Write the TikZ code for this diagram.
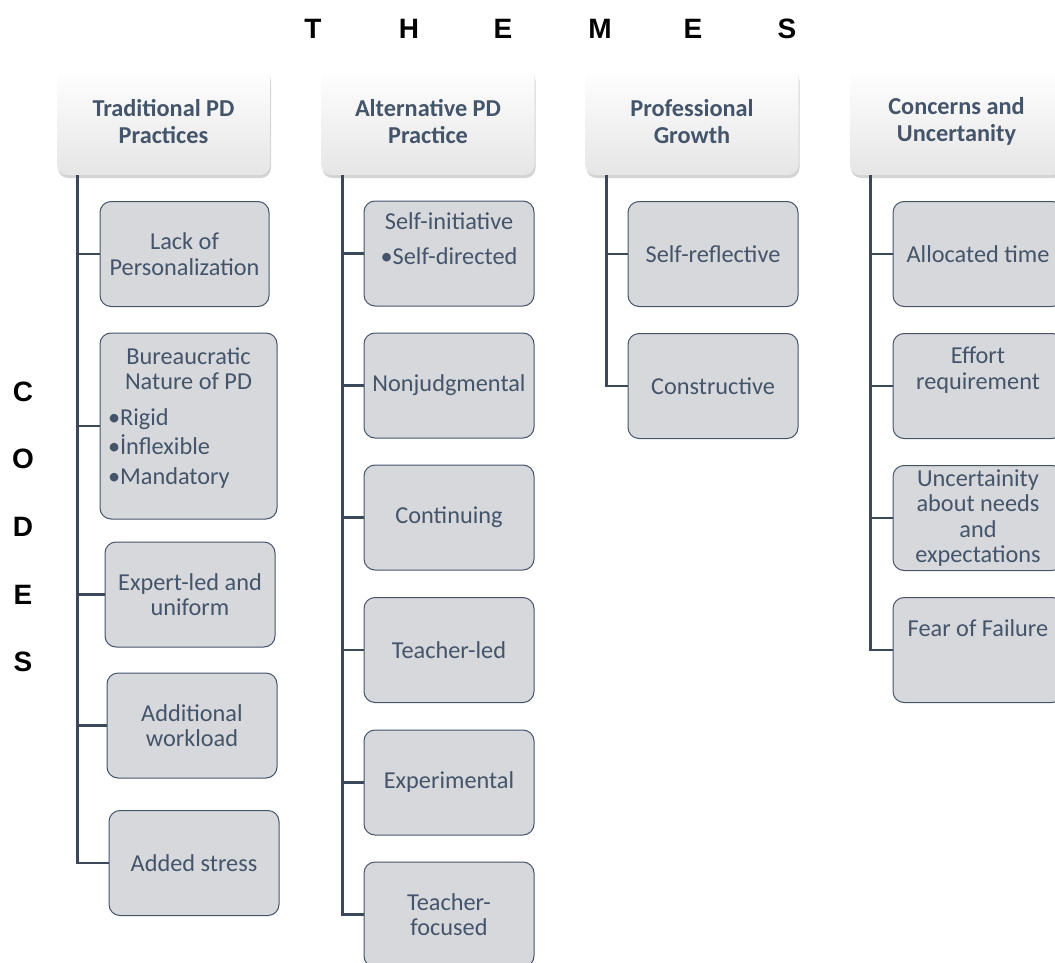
\documentclass[tikz,border=0pt]{standalone}
\usepackage{fontspec}
\setmainfont{Carlito}
\newfontfamily\capsfont{Liberation Sans}
\usetikzlibrary{shadows}

\definecolor{slate}{HTML}{44546A}
\definecolor{spinec}{HTML}{3B4859}
\definecolor{codefill}{HTML}{D6D8DC}

\tikzset{
    themebox/.style={rounded corners=10pt, minimum width=213pt, minimum height=107pt, inner sep=0pt,
        top color=white, bottom color=gray!20,
        drop shadow={opacity=0.35, shadow xshift=1pt, shadow yshift=-3pt},
        align=center, text=slate, font=\fontsize{24.3}{27}\selectfont\bfseries},
    codebox/.style={draw=slate, line width=1pt, fill=codefill, rounded corners=11pt,
        minimum width=170pt, minimum height=105pt, inner sep=0pt,
        align=center, text=slate, font=\fontsize{24.3}{25.5}\selectfont},
    lift/.style={text depth=#1},
    spine/.style={draw=spinec, line width=2.7pt},
    bigletter/.style={font=\capsfont\fontsize{28}{28}\selectfont\bfseries, inner sep=0pt}
}

\begin{document}
\begin{tikzpicture}[x=1pt, y=-1pt]
    \useasboundingbox (0,0) rectangle (1055,963);

    % Draw the spaced words
    \node[bigletter] (thT) at (313,29) {T};
    \node[bigletter] (thH) at (409,29) {H};
    \node[bigletter] (thE) at (503,29) {E};
    \node[bigletter] (thM) at (600,29) {M};
    \node[bigletter] (thEe) at (693,29) {E};
    \node[bigletter] (thS) at (787,29) {S};
    \node[bigletter] (cdC) at (23,392) {C};
    \node[bigletter] (cdO) at (23,459) {O};
    \node[bigletter] (cdD) at (23,527) {D};
    \node[bigletter] (cdE) at (23,595) {E};
    \node[bigletter] (cdS) at (23,662) {S};

    % Draw theme boxes
    \node[themebox] (hTrad) at (163.5,121.5) {Traditional PD\\Practices};
    \node[themebox] (hAlt) at (428,121.5) {Alternative PD\\Practice};
    \node[themebox] (hGrowth) at (692,121.5) {Professional\\Growth};
    \node[themebox] (hConcern) at (956.5,121.5) {Concerns and\\Uncertanity};

    % Draw code boxes
    \node[codebox, minimum width=169pt] (lackPers) at (184.5,254) {Lack of\\Personalization};
    \node[codebox, minimum width=177pt, minimum height=186pt, lift=20pt] (bureau) at (188.5,426)
        {Bureaucratic\\Nature of PD\\[10pt]\makebox[161pt][l]{•Rigid}\\[4pt]\makebox[161pt][l]{•İnflexible}\\[4pt]\makebox[161pt][l]{•Mandatory}};
    \node[codebox] (expertLed) at (190,594.5) {Expert-led and\\uniform};
    \node[codebox] (addWork) at (192,725.5) {Additional\\workload};
    \node[codebox] (addStress) at (194,863) {Added stress};

    \node[codebox, lift=30pt] (selfInit) at (449,253.5) {Self-initiative\\[9pt]•Self-directed};
    \node[codebox] (nonJudg) at (449,385.5) {Nonjudgmental};
    \node[codebox] (continuing) at (449,517.5) {Continuing};
    \node[codebox] (teachLed) at (449,650) {Teacher-led};
    \node[codebox] (experim) at (449,782.5) {Experimental};
    \node[codebox] (teachFoc) at (449,914.5) {Teacher-\\focused};

    \node[codebox] (selfRefl) at (713,254) {Self-reflective};
    \node[codebox] (construct) at (713,386) {Constructive};

    \node[codebox] (allocTime) at (978,254) {Allocated time};
    \node[codebox, lift=36pt] (effortReq) at (978,386) {Effort\\requirement};
    \node[codebox] (uncertain) at (978,518) {Uncertainity\\about needs\\and\\expectations};
    \node[codebox, lift=44pt] (fearFail) at (978,650) {Fear of Failure};

    % Draw tree lines from each theme to its codes
    \draw[spine] ([xshift=21pt]hTrad.south west) |- (lackPers.west);
    \draw[spine] ([xshift=21pt]hTrad.south west) |- (bureau.west);
    \draw[spine] ([xshift=21pt]hTrad.south west) |- (expertLed.west);
    \draw[spine] ([xshift=21pt]hTrad.south west) |- (addWork.west);
    \draw[spine] ([xshift=21pt]hTrad.south west) |- (addStress.west);

    \draw[spine] ([xshift=21pt]hAlt.south west) |- (selfInit.west);
    \draw[spine] ([xshift=21pt]hAlt.south west) |- (nonJudg.west);
    \draw[spine] ([xshift=21pt]hAlt.south west) |- (continuing.west);
    \draw[spine] ([xshift=21pt]hAlt.south west) |- (teachLed.west);
    \draw[spine] ([xshift=21pt]hAlt.south west) |- (experim.west);
    \draw[spine] ([xshift=21pt]hAlt.south west) |- (teachFoc.west);

    \draw[spine] ([xshift=21pt]hGrowth.south west) |- (selfRefl.west);
    \draw[spine] ([xshift=21pt]hGrowth.south west) |- (construct.west);

    \draw[spine] ([xshift=21pt]hConcern.south west) |- (allocTime.west);
    \draw[spine] ([xshift=21pt]hConcern.south west) |- (effortReq.west);
    \draw[spine] ([xshift=21pt]hConcern.south west) |- (uncertain.west);
    \draw[spine] ([xshift=21pt]hConcern.south west) |- (fearFail.west); % longest branch
\end{tikzpicture}
\end{document}
